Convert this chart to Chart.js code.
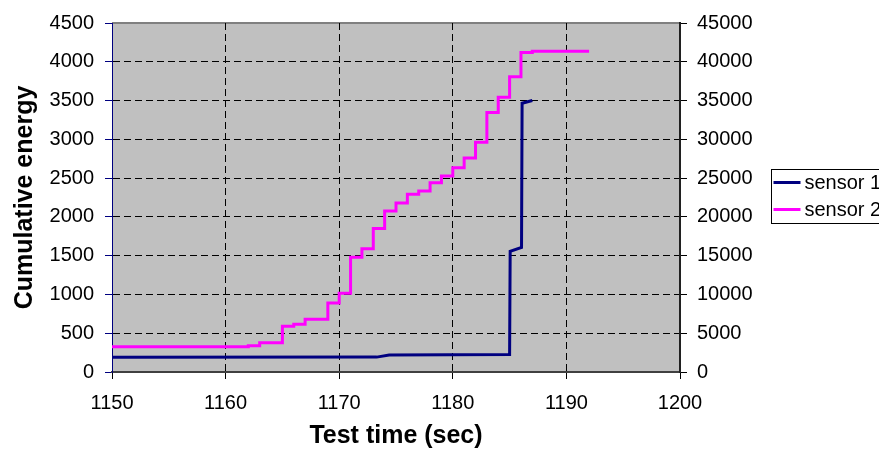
<!DOCTYPE html>
<html>
<head>
<meta charset="utf-8">
<script src="https://cdn.jsdelivr.net/npm/chart.js@4/dist/chart.umd.min.js"></script>
<style>
  html, body { margin: 0; padding: 0; background: #ffffff; }
  #my-canvas { display: block; }
</style>
</head>
<body>
<canvas id="my-canvas" width="879" height="453"></canvas>
<script>
// sensor 1 (left axis)
const sensor1Times = [1150, 1173.3, 1174.4, 1185, 1185.05, 1186.05, 1186.1, 1187]
const sensor1Values = [190, 192, 218, 225, 1555, 1605, 3465, 3500]

// sensor 2 (right axis), one point per step, drawn stepped
const sensor2Times = [1150, 1159, 1162, 1163, 1165, 1166, 1167, 1169, 1170, 1171, 1172, 1173, 1174, 1175,
    1176, 1177, 1178, 1179, 1180, 1181, 1182, 1183, 1184, 1185, 1186, 1187, 1192]
const sensor2Values = [3240, 3260, 3400, 3760, 5900, 6150, 6800, 8890, 10170, 14780, 15900, 18500, 20770, 21790,
    22910, 23330, 24400, 25260, 26320, 27600, 29610, 33460, 35420, 38080, 41190, 41370, 41370]

const seriesNames = ["sensor 1", "sensor 2"]
const xTicks = { min: 1150, max: 1200, step: 10 }
const leftTicks = { min: 0, max: 4500, step: 500 }
const rightTicks = { min: 0, max: 45000, step: 5000 }

const FONT = '"Liberation Sans", Arial, sans-serif'

window.onload = () => {

    const canvas = document.querySelector("#my-canvas")
    const ctx = canvas.getContext('2d')

    const toPoints = (xs, ys) => xs.map((x, i) => ({ x: x, y: ys[i] }))

    // grey plot area plus the top border
    const plotArea = {
        id: 'plotArea',
        beforeDraw(chart) {
            const { ctx, chartArea: a } = chart
            ctx.save()
            ctx.fillStyle = '#c0c0c0'
            ctx.fillRect(a.left, a.top, a.right - a.left, a.bottom - a.top)
            ctx.strokeStyle = '#808080'
            ctx.lineWidth = 2
            ctx.beginPath()
            ctx.moveTo(a.left, a.top)
            ctx.lineTo(a.right, a.top)
            ctx.stroke()
            ctx.restore()
        }
    }

    // boxed legend at the right, like the spreadsheet one
    const boxLegend = {
        id: 'boxLegend',
        afterDraw(chart) {
            const { ctx } = chart
            const left = 771.5, top = 169.5, rowH = 27
            ctx.save()
            ctx.fillStyle = '#ffffff'
            ctx.fillRect(left, top, 120, 54)
            ctx.strokeStyle = '#000000'
            ctx.lineWidth = 1
            ctx.strokeRect(left, top, 120, 54)
            ctx.font = '20px ' + FONT
            ctx.textBaseline = 'middle'
            chart.data.datasets.forEach((ds, i) => {
                const y = top + 13 + i * rowH
                ctx.strokeStyle = ds.borderColor
                ctx.lineWidth = 3
                ctx.beginPath()
                ctx.moveTo(left + 2, y)
                ctx.lineTo(left + 29, y)
                ctx.stroke()
                ctx.fillStyle = '#000000'
                ctx.fillText(ds.label, left + 33, y + 1)
            })
            ctx.restore()
        }
    }

    const innerOnly = (lo, hi) => (c) =>
        (c.tick && (c.tick.value === lo || c.tick.value === hi)) ? 'rgba(0,0,0,0)' : '#000000'

    new Chart(ctx, {
        type: 'line',
        data: {
            datasets: [
                {
                    label: seriesNames[0],
                    data: toPoints(sensor1Times, sensor1Values),
                    borderColor: '#000080',
                    borderWidth: 3,
                    pointRadius: 0,
                    tension: 0,
                    yAxisID: 'y'
                },
                {
                    label: seriesNames[1],
                    data: toPoints(sensor2Times, sensor2Values),
                    borderColor: '#ff00ff',
                    borderWidth: 3,
                    pointRadius: 0,
                    stepped: 'before',
                    yAxisID: 'y1'
                }
            ]
        },
        options: {
            responsive: false,
            animation: false,
            devicePixelRatio: 1,
            layout: { padding: { top: 20, left: 0, right: 0, bottom: 0 } },
            plugins: {
                legend: { display: false },
                tooltip: { enabled: false }
            },
            scales: {
                x: {
                    type: 'linear',
                    min: xTicks.min,
                    max: xTicks.max,
                    afterFit: (s) => { s.height = 81 },
                    ticks: {
                        stepSize: xTicks.step,
                        color: '#000000',
                        padding: 12,
                        maxRotation: 0,
                        font: { family: FONT, size: 20 },
                        callback: (v) => String(v)
                    },
                    grid: {
                        color: innerOnly(xTicks.min, xTicks.max),
                        tickColor: '#000000',
                        tickLength: 7,
                        tickBorderDash: []
                    },
                    border: { color: '#404040', width: 2, dash: [7, 4] },
                    title: {
                        display: true,
                        text: 'Test time (sec)',
                        color: '#000000',
                        font: { family: FONT, size: 25, weight: 'bold' },
                        padding: { top: 0, bottom: 2 }
                    }
                },
                y: {
                    position: 'left',
                    min: leftTicks.min,
                    max: leftTicks.max,
                    afterFit: (s) => { s.width = 112 },
                    ticks: {
                        stepSize: leftTicks.step,
                        color: '#000000',
                        padding: 11,
                        font: { family: FONT, size: 20 },
                        callback: (v) => String(v)
                    },
                    grid: {
                        color: innerOnly(leftTicks.min, leftTicks.max),
                        tickColor: '#000080',
                        tickLength: 7,
                        tickBorderDash: []
                    },
                    border: { color: '#000080', width: 1, dash: [7, 4] },
                    title: {
                        display: true,
                        text: 'Cumulative energy',
                        color: '#000000',
                        font: { family: FONT, size: 25, weight: 'bold' },
                        padding: { top: 10, bottom: 0 }
                    }
                },
                y1: {
                    position: 'right',
                    min: rightTicks.min,
                    max: rightTicks.max,
                    afterFit: (s) => { s.width = 199 },
                    ticks: {
                        stepSize: rightTicks.step,
                        color: '#000000',
                        padding: 10,
                        font: { family: FONT, size: 20 },
                        callback: (v) => String(v)
                    },
                    grid: {
                        drawOnChartArea: false,
                        tickColor: '#000000',
                        tickLength: 7
                    },
                    border: { color: '#202020', width: 2 }
                }
            }
        },
        plugins: [plotArea, boxLegend]
    })
}
</script>
</body>
</html>
